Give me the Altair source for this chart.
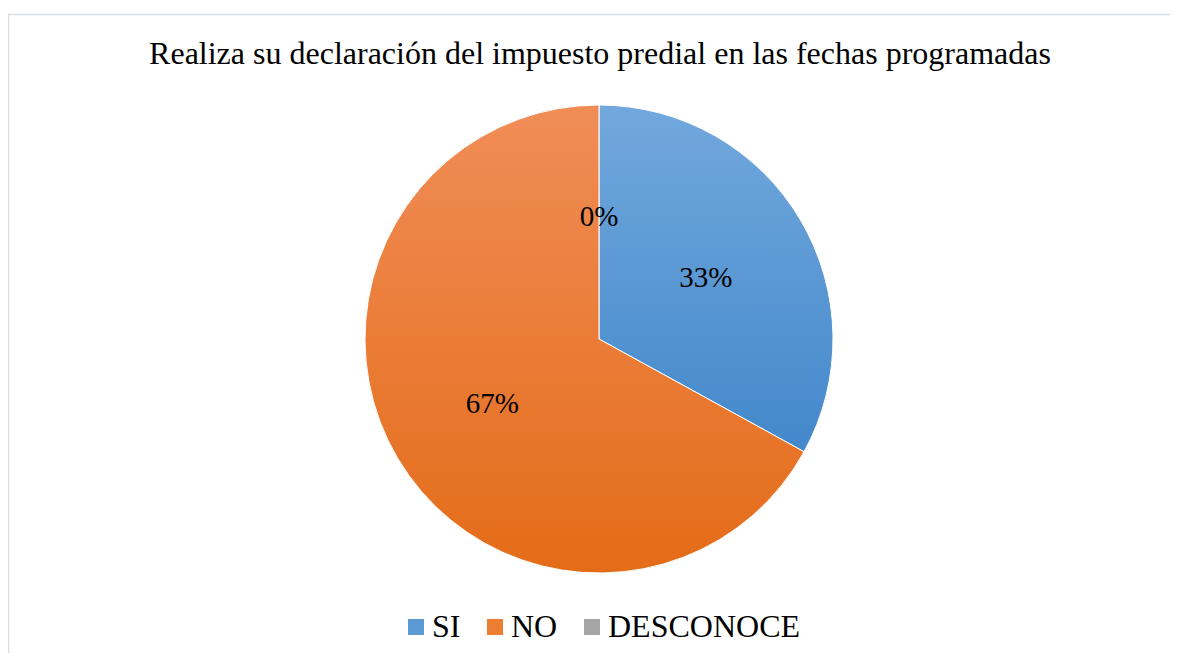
import altair as alt
import pandas as pd

# Data
categories = ["SI", "NO", "DESCONOCE"]
values = [33, 67, 0]
order = [0, 1, 2]
colors = ["#5b9bd5", "#ed7d31", "#a5a5a5"]

df = pd.DataFrame({"cat": categories, "value": values, "order": order})

W, H = 1162, 639
CX, CY, R = 591, 325, 234
FONT = "Liberation Serif"
BORDER = "#dadee5"

grad_blue = {"gradient": "linear", "x1": 0, "y1": 0, "x2": 0, "y2": 1,
             "stops": [{"offset": 0, "color": "#72a8dd"}, {"offset": 1, "color": "#4388cb"}]}
grad_orange = {"gradient": "linear", "x1": 0, "y1": 0, "x2": 0, "y2": 1,
               "stops": [{"offset": 0, "color": "#f08d57"}, {"offset": 1, "color": "#e46c18"}]}

base = alt.Chart(df).transform_stack(
    stack="value", as_=["t0", "t1"], groupby=[],
    sort=[alt.SortField("order", order="ascending")]
).transform_calculate(
    mid="(datum.t0 + datum.t1) / 2",
    label="datum.value + '%'"
)

sc = alt.Scale(domain=[0, 100])
pos = dict(x=alt.value(CX), y=alt.value(CY))

legend_arcs = base.mark_arc(outerRadius=R, stroke="white", strokeWidth=1).encode(
    theta=alt.Theta("t0:Q", scale=sc),
    theta2="t1:Q",
    color=alt.Color("cat:N", scale=alt.Scale(domain=categories, range=colors),
                    legend=alt.Legend(orient="none", legendX=392, legendY=597,
                                      direction="horizontal", title=None,
                                      symbolType="square", symbolSize=256,
                                      symbolStrokeWidth=0, labelLimit=500,
                                      labelFont=FONT, labelFontSize=32,
                                      labelColor="black", labelOffset=0,
                                      columnPadding=18)),
    **pos
)

si_arc = base.transform_filter("datum.cat == 'SI'").mark_arc(
    outerRadius=R, fill=grad_blue, stroke="white", strokeWidth=1
).encode(theta=alt.Theta("t0:Q", scale=sc), theta2="t1:Q", **pos)

no_arc = base.transform_filter("datum.cat == 'NO'").mark_arc(
    outerRadius=R, fill=grad_orange, stroke="white", strokeWidth=1
).encode(theta=alt.Theta("t0:Q", scale=sc), theta2="t1:Q", **pos)

labels = base.mark_text(radius=124, dy=2, font=FONT, fontSize=29, color="black").encode(
    theta=alt.Theta("mid:Q", scale=sc),
    text="label:N",
    **pos
)

# chart frame (top and left edges; the others lie outside the window)
frame_df = pd.DataFrame({"k": [0]})
frame = alt.Chart(frame_df)
top_edge = frame.mark_rule(color=BORDER, strokeWidth=1.5).encode(
    x=alt.value(0), x2=alt.value(W), y=alt.value(0.5))
left_edge = frame.mark_rule(color=BORDER, strokeWidth=1.5).encode(
    x=alt.value(0.5), y=alt.value(0), y2=alt.value(H + 10))

chart = alt.layer(top_edge, left_edge, legend_arcs, si_arc, no_arc, labels).properties(
    width=W, height=H,
    padding={"left": 0, "top": 6, "right": 0, "bottom": 0},
    autosize=alt.AutoSizeParams(type="none"),
    title=alt.TitleParams(
        "Realiza su declaración del impuesto predial en las fechas programadas",
        font=FONT, fontSize=32, fontWeight="normal", color="black",
        anchor="middle", dx=11, dy=62
    )
).configure_view(stroke=None).configure(background="white")

chart.save("out.html", embed_options={"renderer": "svg", "actions": False})
